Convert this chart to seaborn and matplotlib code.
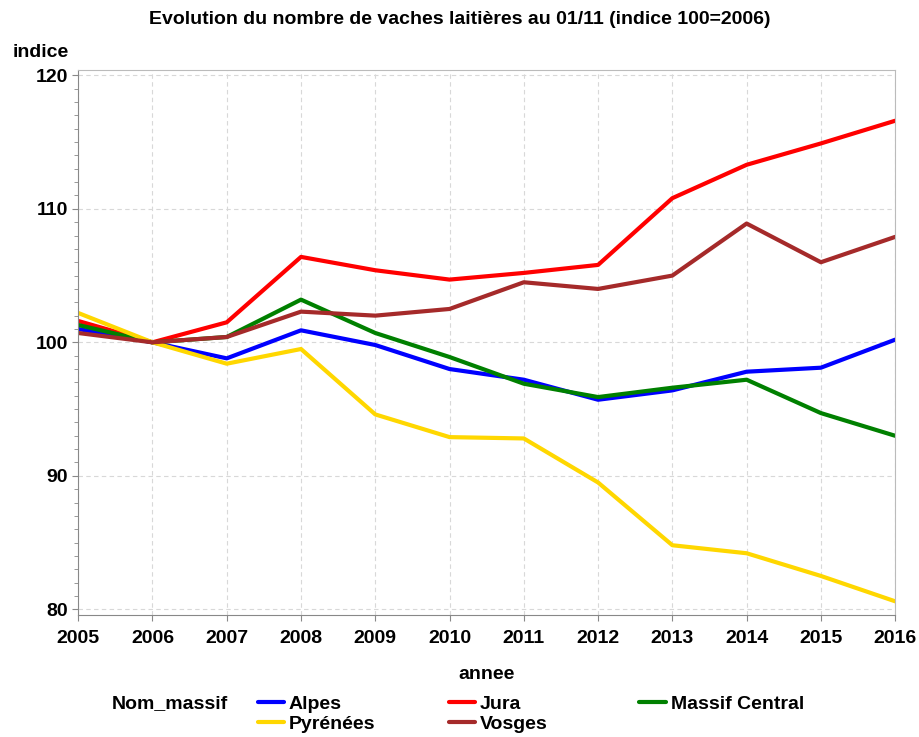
import pandas as pd
import matplotlib.pyplot as plt
import seaborn as sns
from matplotlib.ticker import MultipleLocator

annees = list(range(2005, 2017))
alpes = [101.0, 100.0, 98.8, 100.9, 99.8, 98.0, 97.2, 95.7, 96.4, 97.8, 98.1, 100.2]
jura = [101.6, 100.0, 101.5, 106.4, 105.4, 104.7, 105.2, 105.8, 110.8, 113.3, 114.9, 116.6]
massif_central = [101.3, 100.0, 100.4, 103.2, 100.7, 98.9, 96.9, 95.9, 96.6, 97.2, 94.7, 93.0]
pyrenees = [102.2, 100.0, 98.4, 99.5, 94.6, 92.9, 92.8, 89.5, 84.8, 84.2, 82.5, 80.6]
vosges = [100.7, 100.0, 100.4, 102.3, 102.0, 102.5, 104.5, 104.0, 105.0, 108.9, 106.0, 107.9]

massifs = ['Alpes', 'Jura', 'Massif Central', 'Pyrénées', 'Vosges']
couleurs = ['#0000FF', '#FF0000', '#008000', '#FFD700', '#A52A2A']

df = pd.DataFrame({'annee': annees, 'Alpes': alpes, 'Jura': jura,
                   'Massif Central': massif_central, 'Pyrénées': pyrenees,
                   'Vosges': vosges})
df = df.melt(id_vars='annee', var_name='Nom_massif', value_name='indice')

sns.set_style('white')
plt.rcParams['font.family'] = ['Liberation Sans Narrow', 'Liberation Sans', 'DejaVu Sans']
plt.rcParams['font.weight'] = 'bold'
plt.rcParams['text.color'] = 'black'
plt.rcParams['axes.labelcolor'] = 'black'
plt.rcParams['xtick.labelcolor'] = 'black'
plt.rcParams['ytick.labelcolor'] = 'black'

fig = plt.figure(figsize=(9.2, 7.37), dpi=100)
ax = fig.add_axes([0.085, 0.166, 0.888, 0.739])

sns.lineplot(data=df, x='annee', y='indice', hue='Nom_massif', hue_order=massifs,
             palette=couleurs, linewidth=3, ax=ax, legend=False)

ax.set_xlim(2005, 2016)
ax.set_ylim(79.6, 120.4)
ax.set_xticks(annees)
ax.set_yticks([80, 90, 100, 110, 120])
ax.yaxis.set_minor_locator(MultipleLocator(1))
ax.tick_params(axis='both', labelsize=14, length=4, color='#888888', labelcolor='black')
ax.tick_params(axis='x', pad=7)
ax.tick_params(axis='y', which='minor', length=3, color='#888888')
ax.tick_params(axis='y', which='both', left=True)
ax.tick_params(axis='x', bottom=True)
for lab in ax.get_xticklabels() + ax.get_yticklabels():
    lab.set_fontweight('bold')
ax.grid(True, linestyle=(0, (4, 3)), color='#d8d8d8', linewidth=0.8)
for s in ax.spines.values():
    s.set_color('#bbbbbb')
ax.spines['left'].set_color('#888888')
ax.spines['bottom'].set_color('#888888')

ax.set_xlabel('annee', fontsize=14, fontweight='bold', labelpad=14)
ax.set_ylabel('')
fig.text(0.044, 0.929, 'indice', fontsize=14, fontweight='bold', ha='center', va='center')
fig.suptitle('Evolution du nombre de vaches laitières au 01/11 (indice 100=2006)',
             fontsize=14, fontweight='bold', y=0.985)

# legend laid out row-wise in three columns, title on the left
fig.text(0.121, 1 - 704 / 737, 'Nom_massif', fontsize=14, fontweight='bold',
         ha='left', va='center')
colonnes = [[0, 3], [1, 4], [2]]
x_cols = [0.280, 0.488, 0.695]
for idx, xc in zip(colonnes, x_cols):
    hs = [plt.Line2D([], [], color=couleurs[i], linewidth=3) for i in idx]
    fig.legend(hs, [massifs[i] for i in idx], loc='upper left',
               bbox_to_anchor=(xc, 0.057), frameon=False, borderpad=0,
               borderaxespad=0, handlelength=1.35, handletextpad=0.25,
               labelspacing=0.12, prop={'weight': 'bold', 'size': 14})

fig.savefig('out.png', dpi=100)
